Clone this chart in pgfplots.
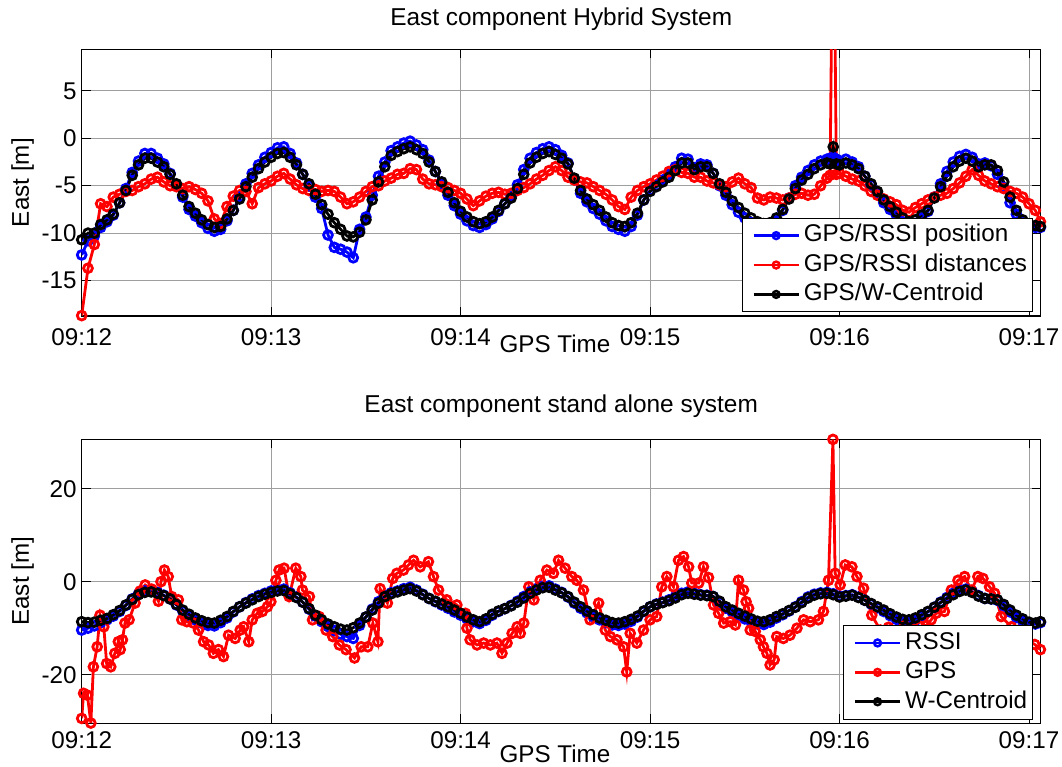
\documentclass[border=0pt]{standalone}
\usepackage{fontspec}
\setmainfont{Liberation Sans}
\usepackage{pgfplots}
\usepackage{pgfplotstable}
\pgfplotsset{compat=1.18}

% Hybrid system: GPS/RSSI position, GPS/RSSI distances, GPS/W-Centroid (seconds after 09:12)
\pgfplotstableread{
t pos dist wc
0 -12.3 -18.7 -10.7
2 -10.8 -13.7 -10.0
4 -10.3 -11.2 -10.0
6 -9.4 -6.9 -9.1
8 -8.8 -7.2 -8.6
10 -8.1 -6.2 -8.0
12 -6.8 -5.9 -6.8
14 -5.3 -5.6 -5.5
16 -3.6 -5.5 -3.9
18 -2.4 -5.1 -2.8
20 -1.6 -4.8 -2.1
22 -1.6 -4.3 -2.1
24 -2.1 -4.1 -2.5
26 -2.7 -4.6 -3.0
28 -3.7 -5.0 -3.8
30 -4.9 -5.1 -4.8
32 -6.2 -5.3 -6.0
34 -7.5 -5.1 -7.2
36 -8.2 -5.4 -7.9
38 -8.9 -5.8 -8.6
40 -9.5 -6.6 -9.1
42 -9.8 -8.5 -9.4
44 -9.6 -9.0 -9.3
46 -8.7 -7.2 -8.5
48 -7.6 -6.1 -7.6
50 -6.2 -5.5 -6.4
52 -4.8 -5.6 -5.1
54 -3.7 -6.9 -4.1
56 -2.8 -5.2 -3.2
58 -2.0 -4.8 -2.5
60 -1.5 -4.5 -2.0
62 -1.0 -4.0 -1.6
64 -0.9 -3.7 -1.5
66 -1.6 -4.3 -2.0
68 -2.6 -4.9 -2.8
70 -3.8 -5.3 -3.8
72 -5.0 -5.5 -4.8
74 -6.2 -5.4 -5.9
76 -7.4 -5.6 -7.0
78 -10.2 -5.5 -8.0
80 -11.5 -5.6 -8.9
82 -11.7 -6.2 -9.6
84 -12.0 -6.9 -10.3
86 -12.6 -6.7 -10.4
88 -9.6 -6.2 -9.9
90 -8.3 -5.6 -8.6
92 -6.0 -5.1 -6.5
94 -4.0 -5.0 -4.6
96 -2.5 -4.5 -3.0
98 -1.3 -4.2 -1.8
100 -0.9 -3.8 -1.4
102 -0.5 -3.7 -1.1
104 -0.3 -3.2 -0.9
106 -0.7 -3.3 -1.2
108 -1.2 -4.3 -1.6
110 -2.3 -4.8 -2.5
112 -3.5 -4.9 -3.5
114 -4.8 -5.1 -4.6
116 -6.0 -5.2 -5.7
118 -7.1 -5.5 -6.8
120 -8.0 -5.8 -7.7
122 -8.7 -6.4 -8.3
124 -9.2 -7.1 -8.8
126 -9.4 -6.6 -9.0
128 -9.1 -6.1 -8.8
130 -8.5 -5.8 -8.3
132 -7.7 -5.7 -7.6
134 -6.9 -5.9 -6.9
136 -6.1 -5.8 -6.3
138 -4.9 -5.5 -5.3
140 -3.3 -5.2 -3.8
142 -2.1 -4.8 -2.6
144 -1.5 -4.3 -2.0
146 -1.1 -3.9 -1.6
148 -0.9 -3.4 -1.4
150 -1.2 -3.0 -1.7
152 -1.8 -3.4 -2.1
154 -2.6 -4.1 -2.7
156 -4.3 -4.4 -4.2
158 -5.8 -4.6 -5.5
160 -6.7 -4.7 -6.4
162 -7.4 -5.1 -7.0
164 -8.0 -5.5 -7.6
166 -8.7 -5.9 -8.3
168 -9.3 -6.5 -8.9
170 -9.6 -7.2 -9.2
172 -9.8 -7.5 -9.3
174 -9.3 -6.2 -8.9
176 -8.1 -5.5 -7.9
178 -6.5 -5.1 -6.5
180 -5.5 -4.8 -5.6
182 -5.0 -4.4 -5.1
184 -4.4 -4.0 -4.6
186 -3.8 -3.5 -4.1
188 -3.0 -3.3 -3.4
190 -2.1 -3.6 -2.6
192 -2.2 -3.7 -2.6
194 -3.1 -4.1 -3.3
196 -2.7 -4.1 -3.0
198 -2.8 -4.5 -3.0
200 -3.7 -4.7 -3.7
202 -5.0 -4.9 -4.8
204 -6.0 -5.1 -5.7
206 -7.0 -4.6 -6.6
208 -7.8 -4.2 -7.3
210 -8.4 -4.8 -7.9
212 -8.9 -5.2 -8.4
214 -9.3 -6.3 -8.8
216 -9.4 -6.5 -9.0
218 -9.3 -6.2 -8.9
220 -8.7 -6.3 -8.4
222 -7.6 -6.5 -7.5
224 -6.3 -6.3 -6.4
226 -5.0 -5.9 -5.3
228 -4.1 -5.8 -4.4
230 -3.4 -6.0 -3.8
232 -2.8 -5.9 -3.2
234 -2.4 -5.0 -2.8
236 -2.2 -4.2 -2.6
237 -2.1 -3.9 -2.7
238 -2.0 30.0 -0.9
239 -2.2 -3.8 -2.7
240 -2.4 -3.7 -2.8
242 -2.2 -4.0 -2.6
244 -2.5 -4.3 -2.8
246 -3.0 -4.5 -3.2
248 -4.0 -5.0 -4.0
250 -4.9 -5.6 -4.8
252 -5.8 -6.0 -5.6
254 -6.8 -6.4 -6.5
256 -7.5 -6.7 -7.2
258 -8.1 -7.0 -7.8
260 -8.8 -7.6 -8.4
262 -9.2 -7.8 -8.8
264 -9.0 -7.3 -8.6
266 -8.4 -6.9 -8.1
268 -7.7 -6.5 -7.6
270 -6.2 -6.2 -6.3
272 -4.8 -6.0 -5.1
274 -3.5 -5.8 -4.0
276 -2.5 -5.3 -3.0
278 -1.9 -4.7 -2.4
280 -1.7 -4.0 -2.1
282 -2.0 -3.3 -2.4
284 -2.7 -3.9 -3.0
286 -2.6 -4.5 -2.8
288 -2.9 -4.8 -2.8
290 -3.8 -5.1 -3.4
292 -5.2 -5.3 -4.6
294 -6.8 -5.6 -6.2
296 -8.0 -5.8 -7.6
298 -8.9 -6.2 -8.6
300 -9.3 -6.9 -9.1
302 -9.4 -7.6 -9.2
303.6 -9.4 -8.8 -9.3
}\hybrid

% Stand alone system: RSSI and W-Centroid
\pgfplotstableread{
t rssi wc
0 -10.4 -8.6
2 -10.0 -8.8
4 -9.5 -8.7
6 -8.8 -8.3
8 -8.2 -7.9
10 -7.4 -7.1
12 -6.4 -6.2
14 -5.1 -5.0
16 -3.7 -3.8
18 -2.6 -2.8
20 -2.0 -2.3
22 -1.9 -2.2
24 -2.3 -2.5
26 -2.9 -3.0
28 -3.7 -3.7
30 -5.0 -4.9
32 -6.3 -6.1
34 -7.3 -7.0
36 -8.2 -7.8
38 -8.9 -8.4
40 -9.4 -8.8
42 -9.5 -8.9
44 -8.8 -8.3
46 -7.8 -7.5
48 -6.5 -6.4
50 -5.4 -5.4
52 -4.5 -4.6
54 -3.7 -3.9
56 -3.0 -3.2
58 -2.5 -2.7
60 -2.0 -2.3
62 -1.7 -2.0
64 -1.6 -1.9
66 -2.4 -2.6
68 -3.3 -3.4
70 -4.4 -4.4
72 -5.9 -5.8
74 -7.4 -7.2
76 -8.6 -8.2
78 -9.6 -9.1
80 -10.5 -9.7
82 -11.3 -10.2
84 -11.8 -10.4
86 -12.2 -9.9
88 -9.4 -8.9
90 -7.6 -7.6
92 -5.9 -6.1
94 -4.3 -4.6
96 -3.0 -3.2
98 -2.4 -2.6
100 -2.0 -2.2
102 -1.5 -1.8
104 -1.2 -1.5
106 -1.8 -2.0
108 -2.7 -2.8
110 -3.6 -3.6
112 -4.3 -4.2
114 -5.0 -4.8
116 -5.7 -5.4
118 -6.5 -6.1
120 -7.2 -6.8
122 -8.0 -7.6
124 -8.6 -8.2
126 -9.0 -8.6
128 -8.3 -8.0
130 -7.2 -7.0
132 -6.4 -6.3
134 -5.8 -5.8
136 -5.1 -5.2
138 -4.2 -4.4
140 -3.2 -3.5
142 -2.2 -2.5
144 -1.5 -1.8
146 -1.0 -1.3
148 -0.9 -1.2
150 -1.6 -1.8
152 -2.3 -2.4
154 -3.3 -3.2
156 -4.6 -4.4
158 -5.7 -5.4
160 -6.7 -6.3
162 -7.5 -7.1
164 -8.2 -7.8
166 -8.8 -8.3
168 -9.3 -8.8
170 -9.4 -8.9
172 -9.1 -8.6
174 -8.5 -8.1
176 -7.6 -7.4
178 -6.4 -6.3
180 -5.4 -5.4
182 -4.8 -4.9
184 -4.4 -4.5
186 -3.9 -4.1
188 -3.2 -3.5
190 -2.5 -2.8
192 -2.2 -2.5
194 -2.5 -2.7
196 -2.8 -2.9
198 -2.9 -3.0
200 -3.2 -3.2
202 -4.4 -4.2
204 -5.7 -5.4
206 -6.5 -6.1
208 -7.3 -6.8
210 -8.0 -7.4
212 -8.6 -8.0
214 -9.1 -8.5
216 -9.2 -8.6
218 -8.7 -8.2
220 -7.8 -7.5
222 -7.1 -6.9
224 -6.3 -6.2
226 -5.4 -5.5
228 -4.3 -4.5
230 -3.3 -3.5
232 -2.7 -2.9
234 -2.4 -2.6
236 -2.3 -2.5
238 -2.6 -2.8
240 -3.1 -3.3
242 -3.0 -3.1
244 -2.8 -2.9
246 -3.3 -3.4
248 -4.0 -4.0
250 -4.8 -4.7
252 -5.6 -5.4
254 -6.4 -6.1
256 -7.3 -6.9
258 -8.1 -7.6
260 -8.7 -8.1
262 -8.8 -8.2
264 -8.3 -7.8
266 -7.4 -7.1
268 -6.5 -6.4
270 -5.5 -5.5
272 -4.4 -4.5
274 -3.4 -3.6
276 -2.5 -2.8
278 -1.8 -2.1
280 -1.6 -1.8
282 -2.1 -2.3
284 -3.0 -3.1
286 -3.6 -3.6
288 -3.7 -3.7
290 -4.0 -3.9
292 -5.2 -4.9
294 -6.5 -6.1
296 -7.7 -7.2
298 -8.5 -8.0
300 -9.0 -8.7
302 -9.1 -8.9
303.6 -8.8 -8.6
}\alonetab

% Stand alone GPS fixes
\pgfplotstableread{
t gps
0 -29.4
0.6 -24.0
1.8 -24.4
2.9 -30.4
3.7 -18.3
4.9 -14.0
5.8 -7.2
7.0 -9.7
7.9 -17.6
9.2 -18.3
10.5 -15.4
11.6 -12.9
12.2 -14.6
12.9 -12.5
13.7 -8.9
15.0 -8.2
16.9 -4.6
18.5 -2.0
20.1 -0.7
22.2 -1.6
24.3 -4.2
25.1 0.0
26.2 2.5
27.4 1.1
28.5 -3.2
30.6 -3.9
31.7 -8.2
33.3 -8.6
35.4 -8.9
37.0 -10.4
38.6 -12.9
40.2 -13.6
41.7 -15.4
43.3 -14.6
44.9 -16.1
46.5 -11.5
48.6 -12.2
50.2 -10.4
51.3 -9.7
52.9 -12.9
54.0 -8.2
55.6 -6.8
57.2 -6.4
58.8 -5.4
59.9 -4.3
61.5 0.3
62.5 2.5
64.1 2.9
65.7 -3.2
67.8 2.9
69.4 1.1
69.9 -1.8
72.1 -3.2
73.1 -8.2
75.2 -7.5
77.4 -10.4
79.5 -11.8
81.6 -13.6
83.7 -14.6
86.4 -16.4
88.5 -14.0
90.6 -14.0
92.2 -8.9
93.8 -12.9
94.5 -1.5
96.8 -4.6
98.5 0.7
99.8 1.8
101.9 2.5
103.5 3.6
105.1 4.6
107.2 3.2
109.8 4.3
111.4 1.1
113.0 -1.8
115.6 -3.9
118.8 -5.0
121.5 -6.8
122.0 -10.0
123.0 -12.5
125.2 -13.6
127.3 -13.2
129.4 -13.6
131.5 -13.2
133.1 -15.4
134.7 -13.2
136.3 -11.1
137.9 -9.7
138.9 -11.1
140.0 -8.9
141.6 -1.1
143.2 -3.9
145.2 0.3
147.3 2.5
149.4 1.8
151.0 4.6
153.1 2.9
155.2 1.1
156.8 0.3
158.9 -1.8
161.0 -8.2
163.7 -4.6
165.8 -10.4
167.4 -11.8
169.5 -12.5
171.6 -14.0
172.6 -19.4
173.7 -11.1
175.8 -13.2
177.9 -10.4
180.0 -8.2
182.1 -7.5
183.7 -1.1
185.3 1.1
187.4 -1.1
189.0 4.6
190.6 5.4
192.2 3.2
193.2 -0.3
195.4 -0.3
196.9 3.2
198.5 0.9
200.1 -5.0
201.7 -6.8
203.3 -8.9
205.4 -8.6
207.0 -9.3
208.0 0.3
209.6 -1.8
210.4 -4.3
211.2 -5.7
211.7 -10.4
213.3 -10.7
214.9 -12.5
215.9 -14.0
217.0 -15.4
218.0 -17.9
219.3 -16.8
220.1 -11.8
222.2 -12.2
224.3 -11.5
226.5 -10.0
228.6 -8.2
230.7 -8.6
233.3 -8.2
234.9 -6.4
236.5 0.3
237.9 30.6
238.6 1.8
240.2 -0.7
241.8 3.6
243.9 3.2
245.5 1.1
247.6 -1.4
250.2 -7.2
252.9 -10.4
255.5 -9.8
258.0 -10.6
260.5 -9.5
263.0 -10.2
265.5 -9.6
267.5 -9.4
269.0 -8.2
270.6 -6.8
273.2 -6.4
275.4 -1.8
277.5 0.3
279.6 1.1
281.7 -1.8
283.8 1.1
285.4 0.7
287.5 -1.1
289.1 -2.5
291.2 -7.5
294.4 -9.7
296.5 -10.5
298.6 -12.2
301.8 -13.5
303.6 -14.6
}\gpstab

\pgfplotsset{
  eastaxis/.style={
    scale only axis, width=959bp,
    xmin=0, xmax=303.7,
    xtick={0,60,120,180,240,300},
    xticklabels={09:12,09:13,09:14,09:15,09:16,09:17},
    grid=major,
    major grid style={draw=black!38, line width=0.9bp},
    tick align=inside, major tick length=9bp,
    every tick/.style={black, line width=0.9bp},
    axis line style={black, line width=1.1bp},
    tick label style={font=\fontsize{24.3}{29}\selectfont},
    xticklabel style={inner sep=0pt, anchor=north},
    yticklabel style={inner sep=0pt, anchor=east, xshift=-5bp},
    label style={font=\fontsize{24.3}{29}\selectfont},
    title style={font=\fontsize{24.5}{29}\selectfont,
      at={(axis description cs:0.5,1)}, anchor=base},
    xlabel style={at={(axis description cs:0.4935,0)}, anchor=base, inner sep=1bp},
    ylabel style={at={(axis description cs:-0.0617,0.5)}, anchor=center},
    legend cell align=left,
    legend style={font=\fontsize{24.3}{29}\selectfont, draw=black,
      line width=1bp, fill=white, inner sep=5bp, row sep=4.5bp,
      column sep=3bp,
      nodes={inner sep=0.7bp, text height=18bp, text depth=5.5bp}},
    legend image code/.code={
      \path (0bp,0bp);
      \draw[mark repeat=2, mark phase=2, ##1, line width=2.8bp,
        mark size=3.4bp, mark options={line width=2.5bp, solid}]
        plot coordinates {(5bp,0bp) (27.5bp,0bp) (50bp,0bp)};
    },
    every axis plot post/.append style={line width=2.8bp, mark=o,
      mark size=4.4bp, mark options={line width=2.8bp, solid}},
  }
}

\begin{document}
\begin{tikzpicture}
\useasboundingbox (0bp,0bp) rectangle (1062bp,767bp);

\begin{axis}[eastaxis,
  at={(81.7bp,451bp)}, anchor=south west, height=266.7bp,
  ymin=-18.74, ymax=9.39,
  ytick={-15,-10,-5,0,5}, yticklabels={-15,-10,-5,0,5},
  xticklabel style={yshift=-12.5bp},
  title={East component Hybrid System}, title style={yshift=17.6bp},
  xlabel={GPS Time}, xlabel style={yshift=-37bp},
  ylabel={East [m]},
  legend style={at={(0.9923,0.3686)}, anchor=north east}]
\addplot[blue] table[x=t, y=pos] {\hybrid};
\addplot[red] table[x=t, y=dist] {\hybrid};
\addplot[black] table[x=t, y=wc] {\hybrid};
\legend{GPS/RSSI position, GPS/RSSI distances, GPS/W-Centroid}
\end{axis}

\begin{axis}[eastaxis,
  at={(81.7bp,43.7bp)}, anchor=south west, height=284bp,
  ymin=-30.45, ymax=30.62,
  ytick={-20,0,20}, yticklabels={-20,0,20},
  xticklabel style={yshift=-8.4bp},
  title={East component stand alone system}, title style={yshift=21bp},
  xlabel={GPS Time}, xlabel style={yshift=-39.5bp},
  ylabel={East [m]},
  legend style={at={(0.9923,0.3461)}, anchor=north east}]
\addplot[blue] table[x=t, y=rssi] {\alonetab};
\addplot[red] table[x=t, y=gps] {\gpstab};
\addplot[black] table[x=t, y=wc] {\alonetab};
\legend{RSSI, GPS, W-Centroid}
\end{axis}
\end{tikzpicture}
\end{document}
